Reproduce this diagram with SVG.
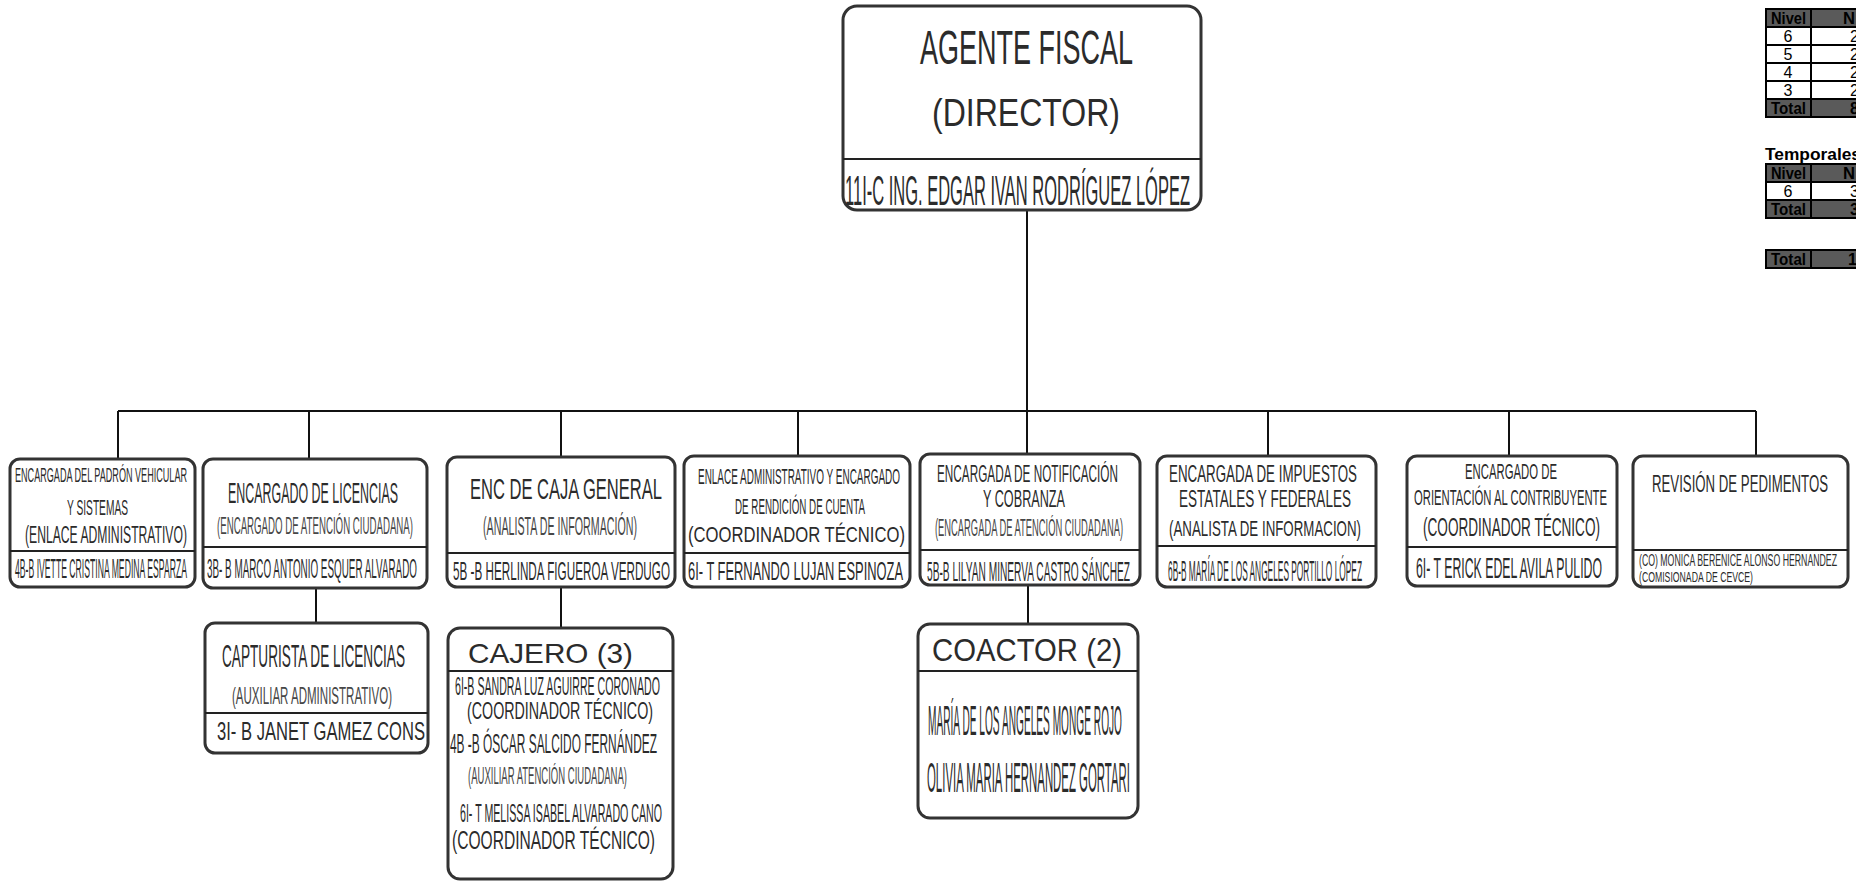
<svg xmlns="http://www.w3.org/2000/svg" width="1856" height="881" viewBox="0 0 1856 881">
<style>
.box{fill:#fff;stroke:#333;stroke-width:3}
.dv{stroke:#222;stroke-width:2}
.conn line{stroke:#111;stroke-width:2}
text{font-family:"Liberation Sans",Arial,sans-serif;fill:#2b2b2b}
.g{fill:#474747}
.hd{fill:#5a5a5a;stroke:#000;stroke-width:2}
.cl{fill:#fff;stroke:#000;stroke-width:2}
.tb{font-weight:bold;font-size:16px;fill:#000}
.tn{font-size:16px;fill:#000}
</style>
<rect width="1856" height="881" fill="#fff"/>
<g class="conn">
<line x1="1027" y1="210" x2="1027" y2="411"/>
<line x1="118" y1="411" x2="1756" y2="411"/>
<line x1="118" y1="411" x2="118" y2="459"/>
<line x1="309" y1="411" x2="309" y2="459"/>
<line x1="561" y1="411" x2="561" y2="457"/>
<line x1="798" y1="411" x2="798" y2="456"/>
<line x1="1027" y1="411" x2="1027" y2="454"/>
<line x1="1268" y1="411" x2="1268" y2="456"/>
<line x1="1509" y1="411" x2="1509" y2="456"/>
<line x1="1756" y1="411" x2="1756" y2="456"/>
<line x1="316" y1="588" x2="316" y2="623"/>
<line x1="561" y1="587" x2="561" y2="628"/>
<line x1="1028" y1="585" x2="1028" y2="624"/>
</g>
<g id="director">
<rect class="box" x="843" y="6" width="358" height="204" rx="14"/>
<line class="dv" x1="843" y1="159" x2="1201" y2="159"/>
<text x="920" y="64" font-size="48" textLength="213" lengthAdjust="spacingAndGlyphs">AGENTE FISCAL</text>
<text x="932" y="126" font-size="39" textLength="188" lengthAdjust="spacingAndGlyphs">(DIRECTOR)</text>
<text x="845" y="205" font-size="43" textLength="345" lengthAdjust="spacingAndGlyphs">11I-C  ING. EDGAR IVAN RODRÍGUEZ LÓPEZ</text>
</g>
<g id="padron">
<rect class="box" x="10" y="459" width="185" height="128" rx="10"/>
<line class="dv" x1="10" y1="551" x2="195" y2="551"/>
<text x="15" y="482" font-size="21" textLength="172" lengthAdjust="spacingAndGlyphs">ENCARGADA DEL PADRÓN VEHICULAR</text>
<text x="67" y="515" font-size="22" textLength="61" lengthAdjust="spacingAndGlyphs">Y SISTEMAS</text>
<text x="25" y="543" font-size="23" textLength="162" lengthAdjust="spacingAndGlyphs">(ENLACE  ADMINISTRATIVO)</text>
<text x="15" y="578" font-size="27" textLength="172" lengthAdjust="spacingAndGlyphs">4B-B  IVETTE CRISTINA MEDINA ESPARZA</text>
</g>
<g id="licencias">
<rect class="box" x="203" y="459" width="224" height="129" rx="10"/>
<line class="dv" x1="203" y1="547" x2="427" y2="547"/>
<text x="228" y="503" font-size="30" textLength="170" lengthAdjust="spacingAndGlyphs">ENCARGADO DE LICENCIAS</text>
<text class="g" x="217" y="534" font-size="24" textLength="196" lengthAdjust="spacingAndGlyphs">(ENCARGADO DE ATENCIÓN CIUDADANA)</text>
<text x="207" y="578" font-size="27" textLength="210" lengthAdjust="spacingAndGlyphs">3B- B  MARCO ANTONIO ESQUER ALVARADO</text>
</g>
<g id="caja">
<rect class="box" x="447" y="457" width="228" height="130" rx="10"/>
<line class="dv" x1="447" y1="553" x2="675" y2="553"/>
<text x="470" y="499" font-size="29" textLength="192" lengthAdjust="spacingAndGlyphs">ENC DE CAJA GENERAL</text>
<text class="g" x="483" y="535" font-size="25" textLength="154" lengthAdjust="spacingAndGlyphs">(ANALISTA DE INFORMACIÓN)</text>
<text x="453" y="580" font-size="26" textLength="217" lengthAdjust="spacingAndGlyphs">5B -B  HERLINDA FIGUEROA VERDUGO</text>
</g>
<g id="enlace">
<rect class="box" x="684" y="456" width="226" height="131" rx="10"/>
<line class="dv" x1="684" y1="553" x2="910" y2="553"/>
<text x="698" y="484" font-size="22" textLength="202" lengthAdjust="spacingAndGlyphs">ENLACE ADMINISTRATIVO Y ENCARGADO</text>
<text x="735" y="514" font-size="22" textLength="130" lengthAdjust="spacingAndGlyphs">DE RENDICIÓN DE CUENTA</text>
<text x="688" y="542" font-size="22" textLength="217" lengthAdjust="spacingAndGlyphs">(COORDINADOR TÉCNICO)</text>
<text x="688" y="580" font-size="25" textLength="215" lengthAdjust="spacingAndGlyphs">6I- T FERNANDO LUJAN ESPINOZA</text>
</g>
<g id="notificacion">
<rect class="box" x="920" y="454" width="220" height="131" rx="10"/>
<line class="dv" x1="920" y1="550" x2="1140" y2="550"/>
<text x="937" y="482" font-size="23" textLength="181" lengthAdjust="spacingAndGlyphs">ENCARGADA DE NOTIFICACIÓN</text>
<text x="983" y="507" font-size="23" textLength="82" lengthAdjust="spacingAndGlyphs">Y COBRANZA</text>
<text class="g" x="935" y="536" font-size="23" textLength="188" lengthAdjust="spacingAndGlyphs">(ENCARGADA DE ATENCIÓN CIUDADANA)</text>
<text x="927" y="581" font-size="27" textLength="203" lengthAdjust="spacingAndGlyphs">5B-B  LILYAN MINERVA CASTRO SÁNCHEZ</text>
</g>
<g id="impuestos">
<rect class="box" x="1157" y="456" width="219" height="131" rx="10"/>
<line class="dv" x1="1157" y1="546" x2="1376" y2="546"/>
<text x="1169" y="482" font-size="24" textLength="188" lengthAdjust="spacingAndGlyphs">ENCARGADA DE IMPUESTOS</text>
<text x="1179" y="507" font-size="24" textLength="172" lengthAdjust="spacingAndGlyphs">ESTATALES Y FEDERALES</text>
<text x="1169" y="536" font-size="22" textLength="192" lengthAdjust="spacingAndGlyphs">(ANALISTA DE INFORMACION)</text>
<text x="1168" y="581" font-size="29" textLength="194" lengthAdjust="spacingAndGlyphs">6B-B  MARÍA DE LOS ANGELES PORTILLO LÓPEZ</text>
</g>
<g id="orientacion">
<rect class="box" x="1407" y="456" width="210" height="130" rx="10"/>
<line class="dv" x1="1407" y1="547" x2="1617" y2="547"/>
<text x="1465" y="479" font-size="22" textLength="92" lengthAdjust="spacingAndGlyphs">ENCARGADO DE</text>
<text x="1414" y="505" font-size="22" textLength="193" lengthAdjust="spacingAndGlyphs">ORIENTACIÓN AL CONTRIBUYENTE</text>
<text x="1423" y="536" font-size="26" textLength="177" lengthAdjust="spacingAndGlyphs">(COORDINADOR TÉCNICO)</text>
<text x="1416" y="578" font-size="29" textLength="186" lengthAdjust="spacingAndGlyphs">6I- T  ERICK EDEL AVILA PULIDO</text>
</g>
<g id="pedimentos">
<rect class="box" x="1633" y="456" width="215" height="131" rx="10"/>
<line class="dv" x1="1633" y1="550" x2="1848" y2="550"/>
<text x="1652" y="492" font-size="24" textLength="176" lengthAdjust="spacingAndGlyphs">REVISIÓN DE PEDIMENTOS</text>
<text x="1639" y="566" font-size="16" textLength="198" lengthAdjust="spacingAndGlyphs">(CO) MONICA BERENICE ALONSO HERNANDEZ</text>
<text x="1639" y="582" font-size="15" textLength="114" lengthAdjust="spacingAndGlyphs">(COMISIONADA DE CEVCE)</text>
</g>
<g id="capturista">
<rect class="box" x="205" y="623" width="223" height="130" rx="10"/>
<line class="dv" x1="205" y1="713" x2="428" y2="713"/>
<text x="222" y="667" font-size="31" textLength="183" lengthAdjust="spacingAndGlyphs">CAPTURISTA DE LICENCIAS</text>
<text class="g" x="232" y="704" font-size="24" textLength="160" lengthAdjust="spacingAndGlyphs">(AUXILIAR ADMINISTRATIVO)</text>
<text x="217" y="740" font-size="26" textLength="208" lengthAdjust="spacingAndGlyphs">3I- B  JANET GAMEZ CONS</text>
</g>
<g id="cajero">
<rect class="box" x="448" y="628" width="225" height="251" rx="12"/>
<line class="dv" x1="448" y1="671" x2="673" y2="671"/>
<text x="468" y="663" font-size="28" textLength="165" lengthAdjust="spacingAndGlyphs">CAJERO (3)</text>
<text x="455" y="695" font-size="26" textLength="205" lengthAdjust="spacingAndGlyphs">6I-B  SANDRA LUZ AGUIRRE CORONADO</text>
<text x="467" y="719" font-size="24" textLength="186" lengthAdjust="spacingAndGlyphs">(COORDINADOR TÉCNICO)</text>
<text x="450" y="753" font-size="27" textLength="207" lengthAdjust="spacingAndGlyphs">4B -B ÓSCAR SALCIDO FERNÁNDEZ</text>
<text class="g" x="468" y="784" font-size="24" textLength="159" lengthAdjust="spacingAndGlyphs">(AUXILIAR ATENCIÓN CIUDADANA)</text>
<text x="460" y="822" font-size="26" textLength="202" lengthAdjust="spacingAndGlyphs">6I- T  MELISSA ISABEL ALVARADO CANO</text>
<text x="452" y="849" font-size="25" textLength="203" lengthAdjust="spacingAndGlyphs">(COORDINADOR TÉCNICO)</text>
</g>
<g id="coactor">
<rect class="box" x="918" y="624" width="220" height="194" rx="12"/>
<line class="dv" x1="918" y1="671" x2="1138" y2="671"/>
<text x="932" y="661" font-size="32" textLength="190" lengthAdjust="spacingAndGlyphs">COACTOR (2)</text>
<text x="928" y="735" font-size="42" textLength="194" lengthAdjust="spacingAndGlyphs">MARÍA DE LOS ANGELES MONGE ROJO</text>
<text x="927" y="792" font-size="42" textLength="203" lengthAdjust="spacingAndGlyphs">OLIVIA MARIA HERNANDEZ GORTARI</text>
</g>
<g id="tabla">
<rect class="hd" x="1766" y="9" width="45" height="18"/>
<rect class="hd" x="1811" y="9" width="70" height="18"/>
<rect class="cl" x="1766" y="27" width="45" height="18"/>
<rect class="cl" x="1811" y="27" width="70" height="18"/>
<rect class="cl" x="1766" y="45" width="45" height="18"/>
<rect class="cl" x="1811" y="45" width="70" height="18"/>
<rect class="cl" x="1766" y="63" width="45" height="18"/>
<rect class="cl" x="1811" y="63" width="70" height="18"/>
<rect class="cl" x="1766" y="81" width="45" height="18"/>
<rect class="cl" x="1811" y="81" width="70" height="18"/>
<rect class="hd" x="1766" y="99" width="45" height="18"/>
<rect class="hd" x="1811" y="99" width="70" height="18"/>
<text class="tb" x="1771" y="24" textLength="35" lengthAdjust="spacingAndGlyphs">Nivel</text>
<text class="tb" x="1843" y="24" textLength="12" lengthAdjust="spacingAndGlyphs">N</text>
<text class="tn" x="1788" y="42" text-anchor="middle">6</text>
<text class="tn" x="1788" y="60" text-anchor="middle">5</text>
<text class="tn" x="1788" y="78" text-anchor="middle">4</text>
<text class="tn" x="1788" y="96" text-anchor="middle">3</text>
<text class="tn" x="1850" y="42">2</text>
<text class="tn" x="1850" y="60">2</text>
<text class="tn" x="1850" y="78">2</text>
<text class="tn" x="1850" y="96">2</text>
<text class="tb" x="1771" y="114" textLength="35" lengthAdjust="spacingAndGlyphs">Total</text>
<text class="tb" x="1850" y="114">8</text>
<text class="tb" x="1765" y="160" textLength="96" lengthAdjust="spacingAndGlyphs">Temporales</text>
<rect class="hd" x="1766" y="164" width="45" height="18"/>
<rect class="hd" x="1811" y="164" width="70" height="18"/>
<rect class="cl" x="1766" y="182" width="45" height="18"/>
<rect class="cl" x="1811" y="182" width="70" height="18"/>
<rect class="hd" x="1766" y="200" width="45" height="18"/>
<rect class="hd" x="1811" y="200" width="70" height="18"/>
<text class="tb" x="1771" y="179" textLength="35" lengthAdjust="spacingAndGlyphs">Nivel</text>
<text class="tb" x="1843" y="179" textLength="12" lengthAdjust="spacingAndGlyphs">N</text>
<text class="tn" x="1788" y="197" text-anchor="middle">6</text>
<text class="tn" x="1850" y="197">3</text>
<text class="tb" x="1771" y="215" textLength="35" lengthAdjust="spacingAndGlyphs">Total</text>
<text class="tb" x="1850" y="215">3</text>
<rect class="hd" x="1766" y="250" width="45" height="18"/>
<rect class="hd" x="1811" y="250" width="70" height="18"/>
<text class="tb" x="1771" y="265" textLength="35" lengthAdjust="spacingAndGlyphs">Total</text>
<text class="tb" x="1848" y="265">1</text>
</g>
</svg>
